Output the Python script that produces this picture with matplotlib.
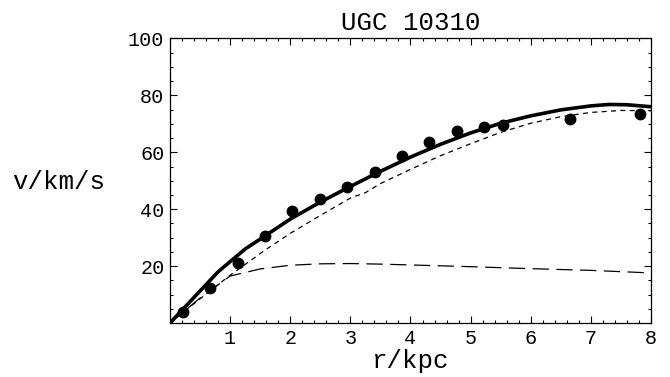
import numpy as np
import matplotlib.pyplot as plt
from matplotlib.ticker import MultipleLocator

# observed rotation curve
r_obs = [0.22, 0.67, 1.13, 1.58, 2.03, 2.50, 2.95, 3.41, 3.86, 4.31, 4.78, 5.22, 5.54, 6.66, 7.82]
v_obs = [3.9, 12.3, 21.1, 30.6, 39.4, 43.6, 47.8, 53.1, 58.7, 63.6, 67.5, 68.9, 69.6, 71.6, 73.5]

# model curves
r_tot = [0, 0.4, 0.8, 1.25, 1.58, 2.0, 2.5, 3.0, 3.5, 4.0, 4.5, 5.0, 5.5, 6.0, 6.5, 7.0, 7.3, 7.6, 8.0]
v_tot = [0, 9.0, 18.0, 26.0, 30.6, 36.5, 42.5, 48.0, 53.3, 58.3, 62.8, 66.8, 70.2, 72.8, 74.9, 76.3, 76.8, 76.7, 76.0]

r_halo = [0, 0.5, 1.0, 1.58, 2.0, 2.5, 3.0, 3.25, 3.5, 4.0, 4.5, 5.0, 5.5, 6.0, 6.5, 7.0, 7.5, 8.0]
v_halo = [0, 8.5, 16.8, 25.6, 31.5, 37.8, 43.9, 45.8, 49.0, 54.0, 58.8, 63.0, 67.0, 70.2, 72.5, 74.0, 74.7, 74.6]

r_disk = [0, 0.5, 1.0, 1.5, 2.0, 2.5, 3.0, 3.5, 4.0, 5.0, 6.0, 7.0, 8.0]
v_disk = [0, 8.8, 16.5, 19.0, 20.3, 20.8, 20.9, 20.7, 20.4, 19.8, 19.1, 18.5, 17.6]

plt.rcParams['font.family'] = ['Liberation Mono', 'DejaVu Sans Mono']

fig = plt.figure(figsize=(6.7, 3.77), dpi=100)
ax = fig.add_axes([0.2537, 0.1432, 0.7179, 0.7548])

ax.plot(r_tot, v_tot, color='black', lw=2.6, solid_capstyle='butt')
ax.plot(r_halo, v_halo, color='black', lw=0.9, dashes=(4, 3.5))
ax.plot(r_disk, v_disk, color='black', lw=0.9, dashes=(13, 6))
ax.plot(r_obs, v_obs, 'o', color='black', ms=7.5)

ax.set_xlim(0, 8)
ax.set_ylim(0, 100)
ax.set_xticks(range(1, 9))
ax.set_yticks([20, 40, 60, 80, 100])
ax.xaxis.set_minor_locator(MultipleLocator(0.2))
ax.yaxis.set_minor_locator(MultipleLocator(5))
ax.tick_params(which='both', direction='in', top=True, right=True, labelsize=14.5, width=0.8)
ax.tick_params(which='major', length=5, pad=4)
ax.tick_params(which='minor', length=2.5)
for s in ax.spines.values():
    s.set_linewidth(0.9)

ax.set_title('UGC 10310', fontsize=18.5, pad=6)
ax.set_xlabel('r/kpc', fontsize=18.5, labelpad=1)
fig.text(0.018, 0.517, 'v/km/s', fontsize=18.5, va='center', ha='left')

fig.savefig('out.png', dpi=100)
